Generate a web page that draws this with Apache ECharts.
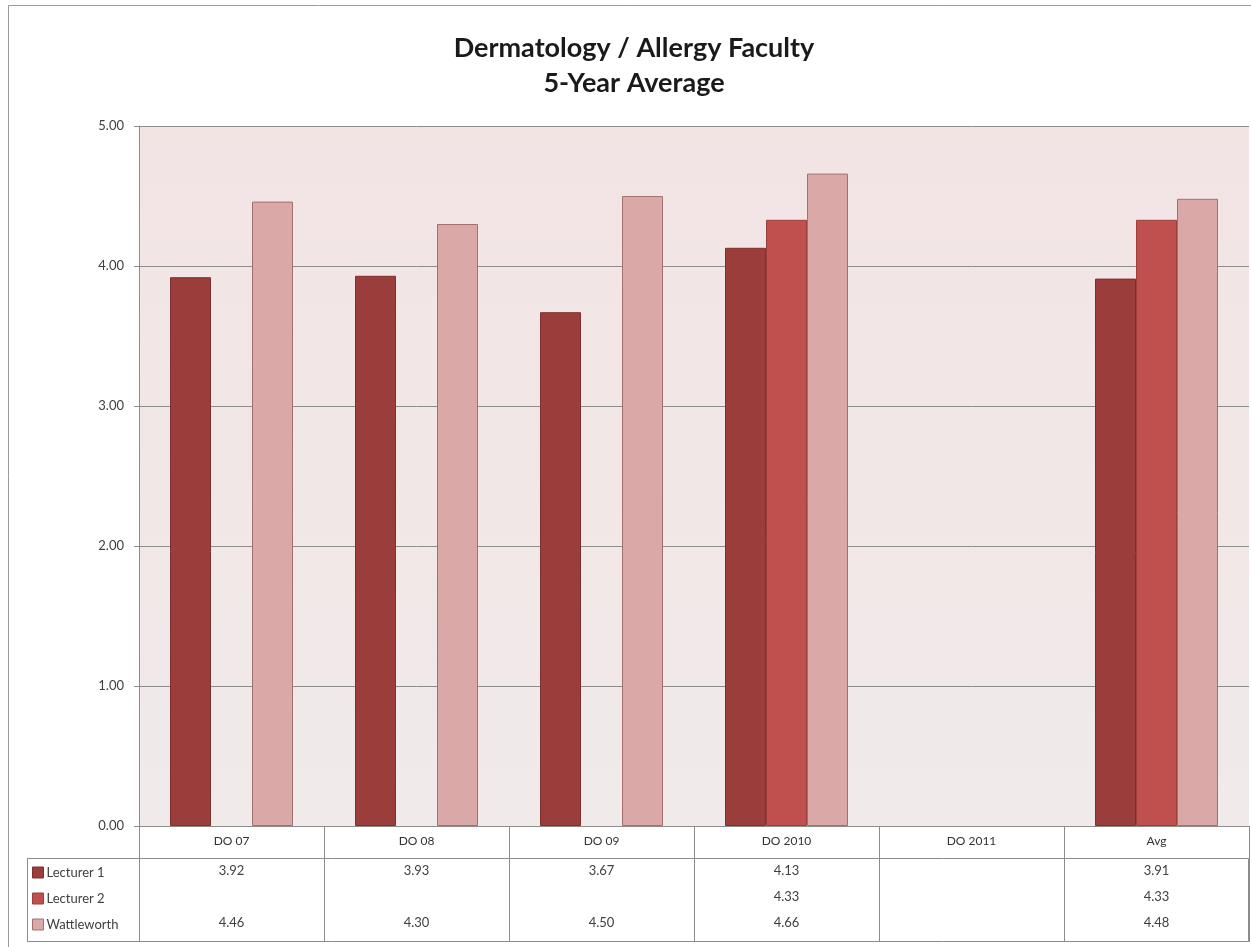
<!DOCTYPE html>
<html>
<head>
<meta charset="utf-8">
<title>Dermatology / Allergy Faculty</title>
<script src="https://cdn.jsdelivr.net/npm/echarts@6/dist/echarts.min.js"></script>
<style>
  html, body { margin: 0; padding: 0; background: #ffffff; }
  #chart_plot_01 { width: 1251px; height: 947px; }
</style>
</head>
<body>
<div id="chart_plot_01"></div>
<script>
// 数据
let categories = ['DO 07', 'DO 08', 'DO 09', 'DO 2010', 'DO 2011', 'Avg'];
let seriesNames = ['Lecturer 1', 'Lecturer 2', 'Wattleworth'];
let lecturer1 = [3.92, 3.93, 3.67, 4.13, null, 3.91];
let lecturer2 = [null, null, null, 4.33, null, 4.33];
let wattleworth = [4.46, 4.30, 4.50, 4.66, null, 4.48];
let seriesValues = [lecturer1, lecturer2, wattleworth];

let fillColors = ['#9b3d3b', '#c0504d', '#d9a8a7'];
let edgeColors = ['#7e302e', '#9c3f3c', '#a4706e'];
let fontName = 'Lato';
let gridLeft = 139, gridTop = 126, gridBottom = 121, gridRight = 2;

function barFun() {
  let myChart = echarts.init(document.getElementById('chart_plot_01'));

  // 表格的每一行是一条额外的x轴，标签取对应数组的值
  let tableAxes = [];
  for (let i = 0; i < seriesValues.length; i++) {
    let vals = seriesValues[i];
    tableAxes.push({
      type: 'category',
      data: categories,
      position: 'bottom',
      offset: 32 + i * 26,
      axisLine: { show: false },
      axisTick: { show: false },
      axisLabel: {
        interval: 0,
        margin: 6,
        fontFamily: fontName,
        fontSize: 13,
        color: '#404040',
        formatter: function (value, idx) {
          return vals[idx] == null ? '' : vals[idx].toFixed(2);
        }
      }
    });
  }

  let serie = [];
  for (let i = 0; i < seriesNames.length; i++) {
    serie.push({
      name: seriesNames[i],
      type: 'bar',
      xAxisIndex: 0,
      barWidth: 41,
      barGap: '0%',
      data: seriesValues[i],
      itemStyle: {
        color: fillColors[i],
        borderColor: edgeColors[i],
        borderWidth: 1
      }
    });
  }

  let option = {
    animation: false,
    backgroundColor: '#ffffff',
    title: {
      text: 'Dermatology / Allergy Faculty\n5-Year Average',
      left: 629,
      top: 26,
      textAlign: 'center',
      textStyle: {
        fontFamily: fontName,
        fontWeight: 'bold',
        fontSize: 27,
        lineHeight: 35,
        color: '#1a1a1a'
      }
    },
    legend: {
      orient: 'vertical',
      left: 27,
      top: 860,
      itemWidth: 11,
      itemHeight: 11,
      itemGap: 11,
      itemStyle: { borderWidth: 1 },
      icon: 'rect',
      data: seriesNames,
      textStyle: { fontFamily: fontName, fontSize: 13, color: '#404040', lineHeight: 15, padding: [0, 0, 0, -2] }
    },
    grid: {
      left: gridLeft,
      top: gridTop,
      right: gridRight,
      bottom: gridBottom,
      show: true,
      borderWidth: 0,
      backgroundColor: {
        type: 'linear', x: 0, y: 0, x2: 0, y2: 1,
        colorStops: [
          { offset: 0, color: '#f3e4e4' },
          { offset: 1, color: '#f0eaea' }
        ]
      }
    },
    xAxis: [
      {
        type: 'category',
        data: categories,
        position: 'bottom',
        axisLine: { show: true, lineStyle: { color: '#8c8c8c', width: 1 } },
        axisTick: { show: true, interval: 0, length: 116, lineStyle: { color: '#8c8c8c' } },
        axisLabel: { interval: 0, margin: 9, fontFamily: fontName, fontSize: 12, color: '#333333' }
      }
    ].concat(tableAxes),
    yAxis: [
      {
        type: 'value',
        min: 0,
        max: 5,
        interval: 1,
        axisLine: { show: true, lineStyle: { color: '#8c8c8c' } },
        axisTick: { show: true, length: 5, lineStyle: { color: '#8c8c8c' } },
        axisLabel: {
          margin: 15,
          fontFamily: fontName,
          fontSize: 13,
          color: '#404040',
          formatter: function (v) { return v.toFixed(2); }
        },
        splitLine: { show: true, lineStyle: { color: '#8c8c8c', width: 1 } }
      }
    ],
    graphic: [
      // 外框
      {
        type: 'rect',
        shape: { x: 8.5, y: 5.5, width: 1260, height: 960 },
        style: { fill: 'none', stroke: '#9a9a9a', lineWidth: 1 },
        silent: true
      },
      // 数据表外框
      {
        type: 'rect',
        shape: { x: 27.5, y: 858.5, width: 1221, height: 83 },
        style: { fill: 'none', stroke: '#8c8c8c', lineWidth: 1 },
        silent: true
      }
    ],
    series: serie
  };

  myChart.clear();
  myChart.setOption(option);
}

barFun();
</script>
</body>
</html>
